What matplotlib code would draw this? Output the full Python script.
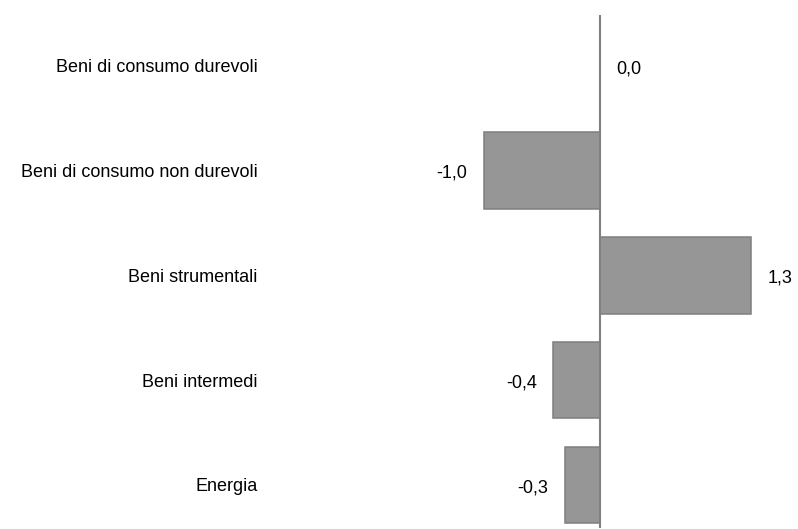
import matplotlib.pyplot as plt

# dati
categorie = ['Beni di consumo durevoli', 'Beni di consumo non durevoli',
             'Beni strumentali', 'Beni intermedi', 'Energia']
valori = [0.0, -1.0, 1.3, -0.4, -0.3]

plt.rcParams['font.family'] = ['Liberation Sans', 'DejaVu Sans']

fig = plt.figure(figsize=(7.98, 5.29), dpi=100)
W, H = 798, 529
# assi posizionati in pixel
ax = fig.add_axes([270 / W, 1 - 528 / H, (798 - 270) / W, (528 - 15) / H])

pos = list(range(len(categorie)))
ax.barh(pos, valori, height=0.73, color='#969696', edgecolor='#7f7f7f', linewidth=1.1)
ax.axvline(0, color='#808080', linewidth=1.5)

px_x = 116.5
ax.set_xlim((270 - 600) / px_x, (798 - 600) / px_x)
px_y = 104.7
ax.set_ylim((528 - 66) / px_y, (15 - 66) / px_y)

ax.set_yticks(pos)
ax.set_yticklabels(categorie, fontsize=13)
ax.tick_params(axis='y', length=0, pad=9)
ax.set_xticks([])
for s in ax.spines.values():
    s.set_visible(False)

for p, v in zip(pos, valori):
    testo = f'{v:.1f}'.replace('.', ',')
    if v < 0:
        ax.annotate(testo, (v, p), xytext=(-12, -2), textcoords='offset points',
                    ha='right', va='center', fontsize=13)
    else:
        ax.annotate(testo, (v, p), xytext=(12, -2), textcoords='offset points',
                    ha='left', va='center', fontsize=13)

fig.savefig('out.png', dpi=100)
